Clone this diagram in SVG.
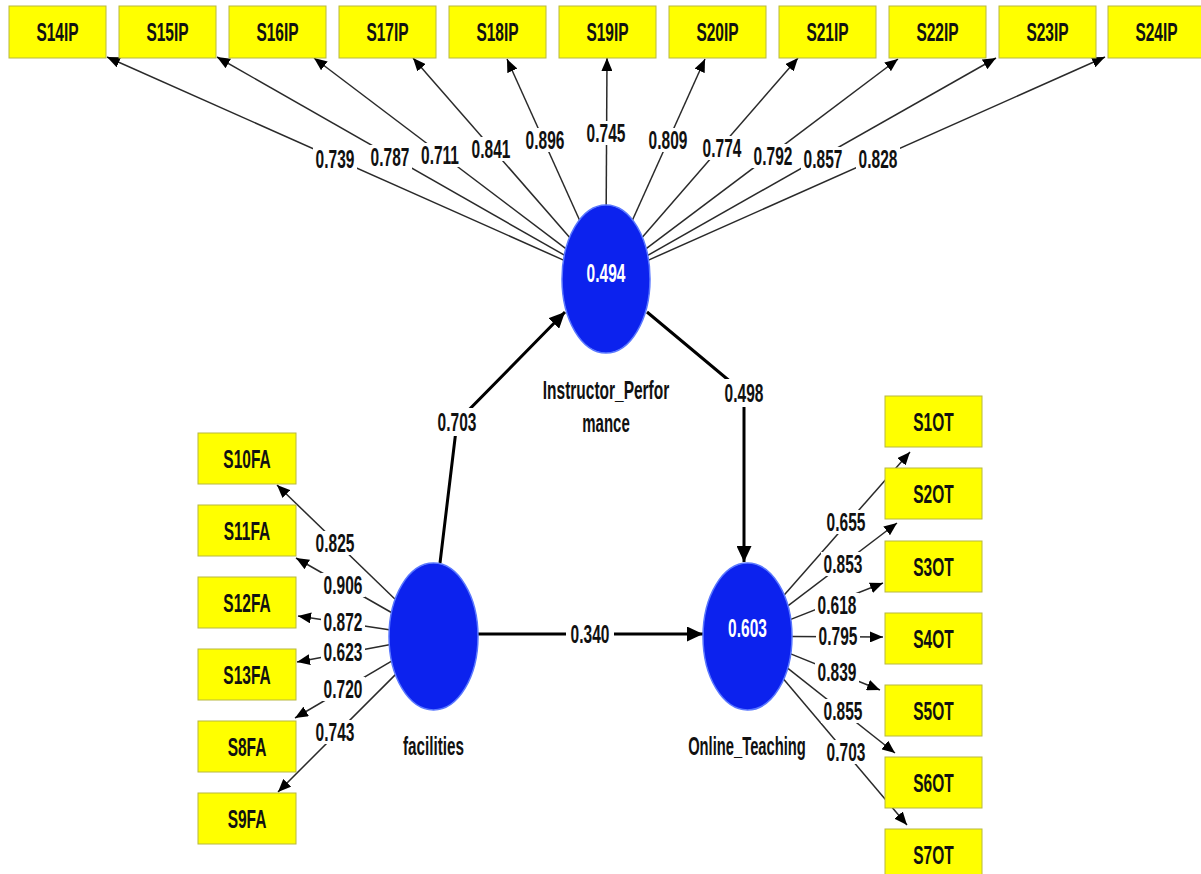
<svg xmlns="http://www.w3.org/2000/svg" width="1201" height="874" viewBox="0 0 1201 874">
<style>
.box{fill:#ffff00;stroke:#b8b840;stroke-width:1}
.lv{fill:#0c22ee;stroke:#5a78ff;stroke-width:1.5}
.t{font-family:"Liberation Sans",Arial,sans-serif;font-size:25px;font-weight:bold;fill:#111;text-anchor:middle}
.w{fill:#ffffff}
.m{fill:none;stroke:#2a2a2a;stroke-width:1.5;marker-end:url(#am)}
.s{fill:none;stroke:#000;stroke-width:3;marker-end:url(#as)}
.bg{fill:#ffffff}
</style>
<defs>
<marker id="am" markerUnits="userSpaceOnUse" markerWidth="13" markerHeight="11" refX="13" refY="5.5" orient="auto"><path d="M0,0 L13,5.5 L0,11 Z" fill="#000"/></marker>
<marker id="as" markerUnits="userSpaceOnUse" markerWidth="16" markerHeight="15" refX="16" refY="7.5" orient="auto"><path d="M0,0 L16,7.5 L0,15 Z" fill="#000"/></marker>
</defs>
<rect width="1201" height="874" fill="#ffffff"/>
<g id="connectors">
<line class="m" x1="563.5" y1="260.1" x2="107" y2="57"/>
<line class="m" x1="564.4" y1="255.2" x2="217" y2="57"/>
<line class="m" x1="565.8" y1="248.6" x2="314" y2="58"/>
<line class="m" x1="569.7" y1="237.4" x2="413" y2="58"/>
<line class="m" x1="579.5" y1="220" x2="507" y2="59"/>
<line class="m" x1="606.2" y1="205" x2="607" y2="58"/>
<line class="m" x1="632.5" y1="220" x2="705" y2="59"/>
<line class="m" x1="642.3" y1="237.2" x2="798" y2="58"/>
<line class="m" x1="646.2" y1="248.7" x2="898" y2="59"/>
<line class="m" x1="647.7" y1="255.4" x2="996" y2="58"/>
<line class="m" x1="648.5" y1="260.1" x2="1105" y2="57"/>
<line class="m" x1="395.1" y1="599.3" x2="277" y2="485"/>
<line class="m" x1="391.4" y1="612.5" x2="296" y2="558"/>
<line class="m" x1="389.2" y1="629.8" x2="298" y2="616"/>
<line class="m" x1="389.3" y1="644.8" x2="297" y2="662"/>
<line class="m" x1="391.6" y1="661.2" x2="295" y2="718"/>
<line class="m" x1="395.4" y1="674.6" x2="278" y2="792"/>
<line class="m" x1="784.2" y1="594.9" x2="910" y2="452"/>
<line class="m" x1="787.9" y1="605.8" x2="897" y2="523"/>
<line class="m" x1="790.8" y1="619.4" x2="883" y2="583"/>
<line class="m" x1="792" y1="636.5" x2="883" y2="637"/>
<line class="m" x1="790.7" y1="653.9" x2="880" y2="690"/>
<line class="m" x1="787.6" y1="668.2" x2="895" y2="753"/>
<line class="m" x1="783.7" y1="679.3" x2="907" y2="825"/>
<polyline class="s" points="440,563 457,422 565,312"/>
<polyline class="s" points="647,312 744,393 744,562"/>
<line class="s" x1="478" y1="634" x2="703" y2="634"/>
<g id="labels">
<rect class="bg" x="313" y="147" width="44" height="24"/>
<rect class="bg" x="368" y="145" width="44" height="24"/>
<rect class="bg" x="418" y="143" width="44" height="24"/>
<rect class="bg" x="469" y="137" width="44" height="24"/>
<rect class="bg" x="523" y="128" width="44" height="24"/>
<rect class="bg" x="584" y="121" width="44" height="24"/>
<rect class="bg" x="646" y="128" width="44" height="24"/>
<rect class="bg" x="700" y="136" width="44" height="24"/>
<rect class="bg" x="751" y="144" width="44" height="24"/>
<rect class="bg" x="801" y="147" width="44" height="24"/>
<rect class="bg" x="856" y="147" width="44" height="24"/>
<rect class="bg" x="313" y="531" width="44" height="24"/>
<rect class="bg" x="321" y="573" width="44" height="24"/>
<rect class="bg" x="321" y="610" width="44" height="24"/>
<rect class="bg" x="321" y="640" width="44" height="24"/>
<rect class="bg" x="321" y="677" width="44" height="24"/>
<rect class="bg" x="313" y="720" width="44" height="24"/>
<rect class="bg" x="824" y="510" width="44" height="24"/>
<rect class="bg" x="821" y="552" width="44" height="24"/>
<rect class="bg" x="815" y="593" width="44" height="24"/>
<rect class="bg" x="816" y="624" width="44" height="24"/>
<rect class="bg" x="815" y="660" width="44" height="24"/>
<rect class="bg" x="821" y="699" width="44" height="24"/>
<rect class="bg" x="824" y="740" width="44" height="24"/>
<rect class="bg" x="433" y="408" width="48" height="28"/>
<rect class="bg" x="720" y="379" width="48" height="28"/>
<rect class="bg" x="566" y="620" width="48" height="28"/>
<text class="t" transform="translate(335 168) scale(0.62 1)">0.739</text>
<text class="t" transform="translate(390 166) scale(0.62 1)">0.787</text>
<text class="t" transform="translate(440 164) scale(0.62 1)">0.711</text>
<text class="t" transform="translate(491 158) scale(0.62 1)">0.841</text>
<text class="t" transform="translate(545 149) scale(0.62 1)">0.896</text>
<text class="t" transform="translate(606 142) scale(0.62 1)">0.745</text>
<text class="t" transform="translate(668 149) scale(0.62 1)">0.809</text>
<text class="t" transform="translate(722 157) scale(0.62 1)">0.774</text>
<text class="t" transform="translate(773 165) scale(0.62 1)">0.792</text>
<text class="t" transform="translate(823 168) scale(0.62 1)">0.857</text>
<text class="t" transform="translate(878 168) scale(0.62 1)">0.828</text>
<text class="t" transform="translate(335 552) scale(0.62 1)">0.825</text>
<text class="t" transform="translate(343 594) scale(0.62 1)">0.906</text>
<text class="t" transform="translate(343 631) scale(0.62 1)">0.872</text>
<text class="t" transform="translate(343 661) scale(0.62 1)">0.623</text>
<text class="t" transform="translate(343 698) scale(0.62 1)">0.720</text>
<text class="t" transform="translate(335 741) scale(0.62 1)">0.743</text>
<text class="t" transform="translate(846 531) scale(0.62 1)">0.655</text>
<text class="t" transform="translate(843 573) scale(0.62 1)">0.853</text>
<text class="t" transform="translate(837 614) scale(0.62 1)">0.618</text>
<text class="t" transform="translate(838 645) scale(0.62 1)">0.795</text>
<text class="t" transform="translate(837 681) scale(0.62 1)">0.839</text>
<text class="t" transform="translate(843 720) scale(0.62 1)">0.855</text>
<text class="t" transform="translate(846 761) scale(0.62 1)">0.703</text>
<text class="t" transform="translate(457 431) scale(0.62 1)">0.703</text>
<text class="t" transform="translate(744 402) scale(0.62 1)">0.498</text>
<text class="t" transform="translate(590 643) scale(0.62 1)">0.340</text>
</g>
</g>
<g id="S14IP"><rect class="box" x="9" y="6" width="97" height="52"/><text class="t" transform="translate(57.5 41) scale(0.62 1)">S14IP</text></g>
<g id="S15IP"><rect class="box" x="119" y="6" width="97" height="52"/><text class="t" transform="translate(167.5 41) scale(0.62 1)">S15IP</text></g>
<g id="S16IP"><rect class="box" x="229" y="6" width="97" height="52"/><text class="t" transform="translate(277.5 41) scale(0.62 1)">S16IP</text></g>
<g id="S17IP"><rect class="box" x="339" y="6" width="97" height="52"/><text class="t" transform="translate(387.5 41) scale(0.62 1)">S17IP</text></g>
<g id="S18IP"><rect class="box" x="449" y="6" width="97" height="52"/><text class="t" transform="translate(497.5 41) scale(0.62 1)">S18IP</text></g>
<g id="S19IP"><rect class="box" x="559" y="6" width="97" height="52"/><text class="t" transform="translate(607.5 41) scale(0.62 1)">S19IP</text></g>
<g id="S20IP"><rect class="box" x="669" y="6" width="97" height="52"/><text class="t" transform="translate(717.5 41) scale(0.62 1)">S20IP</text></g>
<g id="S21IP"><rect class="box" x="779" y="6" width="97" height="52"/><text class="t" transform="translate(827.5 41) scale(0.62 1)">S21IP</text></g>
<g id="S22IP"><rect class="box" x="889" y="6" width="97" height="52"/><text class="t" transform="translate(937.5 41) scale(0.62 1)">S22IP</text></g>
<g id="S23IP"><rect class="box" x="999" y="6" width="97" height="52"/><text class="t" transform="translate(1047.5 41) scale(0.62 1)">S23IP</text></g>
<g id="S24IP"><rect class="box" x="1108" y="6" width="97" height="52"/><text class="t" transform="translate(1156.5 41) scale(0.62 1)">S24IP</text></g>
<g id="S10FA"><rect class="box" x="198" y="433" width="98" height="51"/><text class="t" transform="translate(247 468) scale(0.62 1)">S10FA</text></g>
<g id="S11FA"><rect class="box" x="198" y="505" width="98" height="51"/><text class="t" transform="translate(247 540) scale(0.62 1)">S11FA</text></g>
<g id="S12FA"><rect class="box" x="198" y="577" width="98" height="51"/><text class="t" transform="translate(247 612) scale(0.62 1)">S12FA</text></g>
<g id="S13FA"><rect class="box" x="198" y="649" width="98" height="51"/><text class="t" transform="translate(247 684) scale(0.62 1)">S13FA</text></g>
<g id="S8FA"><rect class="box" x="198" y="721" width="98" height="51"/><text class="t" transform="translate(247 756) scale(0.62 1)">S8FA</text></g>
<g id="S9FA"><rect class="box" x="198" y="793" width="98" height="51"/><text class="t" transform="translate(247 828) scale(0.62 1)">S9FA</text></g>
<g id="S1OT"><rect class="box" x="885" y="396" width="97" height="51"/><text class="t" transform="translate(933.5 431) scale(0.62 1)">S1OT</text></g>
<g id="S2OT"><rect class="box" x="885" y="468" width="97" height="51"/><text class="t" transform="translate(933.5 503) scale(0.62 1)">S2OT</text></g>
<g id="S3OT"><rect class="box" x="885" y="541" width="97" height="51"/><text class="t" transform="translate(933.5 576) scale(0.62 1)">S3OT</text></g>
<g id="S4OT"><rect class="box" x="885" y="613" width="97" height="51"/><text class="t" transform="translate(933.5 648) scale(0.62 1)">S4OT</text></g>
<g id="S5OT"><rect class="box" x="885" y="685" width="97" height="51"/><text class="t" transform="translate(933.5 720) scale(0.62 1)">S5OT</text></g>
<g id="S6OT"><rect class="box" x="885" y="757" width="97" height="51"/><text class="t" transform="translate(933.5 792) scale(0.62 1)">S6OT</text></g>
<g id="S7OT"><rect class="box" x="885" y="829" width="97" height="51"/><text class="t" transform="translate(933.5 864) scale(0.62 1)">S7OT</text></g>
<g id="Instructor_Performance"><ellipse class="lv" cx="606" cy="279" rx="44" ry="74"/><text class="t w" transform="translate(606 282) scale(0.62 1)">0.494</text><text class="t" transform="translate(606 399) scale(0.62 1)">Instructor_Perfor</text><text class="t" transform="translate(606 432) scale(0.6 1)">mance</text></g>
<g id="facilities"><ellipse class="lv" cx="433.5" cy="636.5" rx="44.5" ry="73.5"/><text class="t" transform="translate(433.5 755) scale(0.61 1)">facilities</text></g>
<g id="Online_Teaching"><ellipse class="lv" cx="747.5" cy="636.5" rx="44.5" ry="73.5"/><text class="t w" transform="translate(747.5 637) scale(0.62 1)">0.603</text><text class="t" transform="translate(747 755) scale(0.59 1)">Online_Teaching</text></g>
</svg>
